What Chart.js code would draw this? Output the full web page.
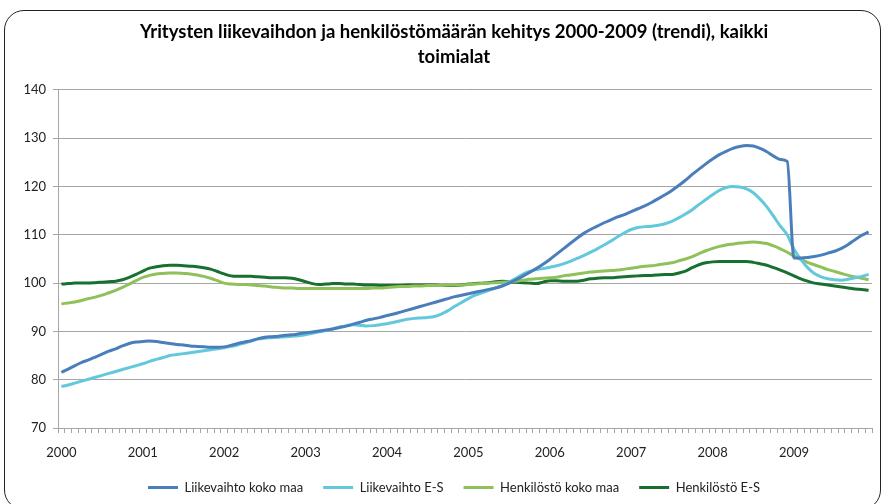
<!DOCTYPE html>
<html>
<head>
<meta charset="utf-8">
<script src="https://cdn.jsdelivr.net/npm/chart.js@4.4.1/dist/chart.umd.min.js"></script>
<style>
  html, body { margin: 0; padding: 0; background: #fff; }
  #wrap { position: relative; width: 887px; height: 504px; }
  #frame {
    position: absolute; left: 4px; top: 10px; width: 877px; height: 500px;
    border: 1px solid #222; border-radius: 20px; box-sizing: border-box;
  }
  #chart { position: absolute; left: 0; top: 0; }
</style>
</head>
<body>
<div id="wrap">
  <div id="frame"></div>
  <canvas id="chart" width="887" height="504"></canvas>
</div>
<script>
// --- Categories: one label per month, year shown on January ---
const years = ['2000','2001','2002','2003','2004','2005','2006','2007','2008','2009'];
const months = [];
years.forEach(y => { for (let m = 1; m <= 12; m++) months.push(y + '-' + (m < 10 ? '0' + m : m)); });

// --- Series (trend index, monthly 2000-01 .. 2009-12) ---
const liikevaihtoKokoMaa = [
  81.5, 82.2, 82.9, 83.6, 84.1, 84.7, 85.3, 85.9, 86.4, 87.0, 87.5, 87.8,
  87.9, 88.0, 87.9, 87.7, 87.5, 87.3, 87.2, 87.0, 86.9, 86.8, 86.7, 86.7,
  86.8, 87.1, 87.5, 87.8, 88.1, 88.5, 88.8, 88.9, 89.0, 89.2, 89.3, 89.5,
  89.7, 89.9, 90.1, 90.3, 90.5, 90.8, 91.1, 91.5, 91.9, 92.3, 92.6, 92.9,
  93.3, 93.6, 94.0, 94.4, 94.8, 95.2, 95.6, 96.0, 96.4, 96.8, 97.2, 97.5,
  97.8, 98.1, 98.4, 98.7, 99.0, 99.4, 100.0, 100.7, 101.4, 102.2, 103.0, 103.9,
  104.9, 106.0, 107.1, 108.2, 109.3, 110.3, 111.1, 111.8, 112.5, 113.1, 113.7, 114.2,
  114.8, 115.4, 116.0, 116.7, 117.5, 118.3, 119.2, 120.2, 121.3, 122.5, 123.6, 124.7,
  125.7, 126.6, 127.3, 127.9, 128.3, 128.5, 128.4, 127.9, 127.2, 126.3, 125.6, 125.2,
  105.2, 105.2, 105.3, 105.5, 105.8, 106.2, 106.6, 107.2, 108.0, 109.0, 109.9, 110.6
];
const liikevaihtoES = [
  78.6, 78.9, 79.3, 79.7, 80.1, 80.5, 80.9, 81.3, 81.7, 82.1, 82.5, 82.9,
  83.3, 83.8, 84.2, 84.6, 85.0, 85.2, 85.4, 85.6, 85.8, 86.0, 86.2, 86.4,
  86.6, 86.9, 87.2, 87.6, 88.0, 88.4, 88.6, 88.7, 88.8, 88.9, 89.0, 89.1,
  89.3, 89.6, 89.9, 90.2, 90.5, 90.9, 91.2, 91.4, 91.3, 91.1, 91.2, 91.4,
  91.6, 91.9, 92.2, 92.5, 92.7, 92.8, 92.9, 93.1, 93.6, 94.3, 95.2, 96.0,
  96.8, 97.5, 98.0, 98.5, 99.0, 99.5, 100.2, 101.0, 101.8, 102.4, 102.8, 103.0,
  103.3, 103.6, 104.0, 104.5, 105.1, 105.7, 106.4, 107.1, 107.9, 108.7, 109.6, 110.4,
  111.1, 111.5, 111.7, 111.8, 112.0, 112.3, 112.8, 113.5, 114.3, 115.2, 116.3, 117.3,
  118.3, 119.2, 119.8, 120.0, 119.9, 119.5, 118.7, 117.4, 115.8, 113.8, 111.8, 110.0,
  107.0, 104.9, 103.2, 102.0, 101.3, 100.9, 100.7, 100.6, 100.8, 101.1, 101.4, 101.8
];
const henkilostoKokoMaa = [
  95.7, 95.9, 96.1, 96.4, 96.8, 97.1, 97.5, 98.0, 98.5, 99.1, 99.8, 100.5,
  101.2, 101.6, 101.9, 102.0, 102.1, 102.1, 102.0, 101.9, 101.7, 101.4, 101.0, 100.5,
  100.0, 99.8, 99.7, 99.7, 99.6, 99.5, 99.4, 99.2, 99.1, 99.0, 99.0, 98.9,
  98.9, 98.9, 98.9, 98.9, 98.9, 98.9, 98.9, 98.9, 98.9, 98.9, 99.0, 99.0,
  99.1, 99.2, 99.3, 99.3, 99.4, 99.4, 99.5, 99.5, 99.5, 99.6, 99.6, 99.6,
  99.7, 99.8, 99.9, 100.0, 100.1, 100.2, 100.3, 100.4, 100.6, 100.8, 100.9, 101.0,
  101.1, 101.2, 101.5, 101.7, 101.9, 102.1, 102.3, 102.4, 102.5, 102.6, 102.7, 102.9,
  103.1, 103.3, 103.5, 103.6, 103.8, 104.0, 104.2, 104.6, 105.0, 105.5, 106.1, 106.7,
  107.2, 107.6, 107.9, 108.1, 108.3, 108.4, 108.5, 108.4, 108.2, 107.7, 107.1, 106.4,
  105.6, 104.9, 104.3, 103.8, 103.3, 102.8, 102.4, 102.0, 101.6, 101.3, 101.0, 100.7
];
const henkilostoES = [
  99.8, 99.9, 100.0, 100.0, 100.0, 100.1, 100.2, 100.3, 100.4, 100.7, 101.2, 101.8,
  102.5, 103.1, 103.4, 103.6, 103.7, 103.7, 103.6, 103.5, 103.4, 103.2, 102.9, 102.4,
  101.9, 101.5, 101.4, 101.4, 101.4, 101.3, 101.2, 101.1, 101.1, 101.1, 101.0, 100.7,
  100.3, 99.9, 99.7, 99.8, 99.9, 99.9, 99.8, 99.8, 99.7, 99.6, 99.6, 99.5,
  99.5, 99.5, 99.5, 99.6, 99.6, 99.6, 99.6, 99.6, 99.5, 99.5, 99.5, 99.6,
  99.8, 99.9, 100.0, 100.1, 100.3, 100.4, 100.3, 100.2, 100.1, 100.0, 99.9, 100.2,
  100.5, 100.5, 100.4, 100.4, 100.4, 100.6, 100.9, 101.0, 101.1, 101.1, 101.2, 101.3,
  101.4, 101.5, 101.6, 101.6, 101.7, 101.8, 101.8, 102.1, 102.5, 103.2, 103.8, 104.2,
  104.4, 104.5, 104.5, 104.5, 104.5, 104.5, 104.3, 104.0, 103.7, 103.2, 102.7, 102.1,
  101.5, 100.9, 100.4, 100.0, 99.8, 99.6, 99.4, 99.2, 99.0, 98.8, 98.7, 98.5
];

const seriesNames  = ['Liikevaihto koko maa', 'Liikevaihto E-S', 'Henkilöstö koko maa', 'Henkilöstö E-S'];
const seriesColors = ['#4a7ebb', '#63c8dc', '#8fc05a', '#17702f'];
const seriesData   = [liikevaihtoKokoMaa, liikevaihtoES, henkilostoKokoMaa, henkilostoES];

const titleLines = ['Yritysten liikevaihdon ja henkilöstömäärän kehitys 2000-2009 (trendi), kaikki', 'toimialat'];

const FONT = 'Lato, "Open Sans", sans-serif';
const gridGrey = '#a6a6a6';

const ctx = document.getElementById('chart').getContext('2d');

const chart = new Chart(ctx, {
  type: 'line',
  data: {
    labels: months,
    datasets: seriesData.map((d, i) => ({
      label: seriesNames[i],
      data: d,
      borderColor: seriesColors[i],
      backgroundColor: seriesColors[i],
      borderWidth: 3,
      pointRadius: 0,
      pointStyle: 'line',
      cubicInterpolationMode: 'monotone',
      fill: false
    }))
  },
  options: {
    responsive: false,
    animation: false,
    layout: { padding: { left: 24, right: 3, top: 0, bottom: 0 } },
    plugins: {
      title: {
        display: true,
        text: titleLines,
        color: '#000',
        font: { family: FONT, size: 18.5, weight: 'bold', lineHeight: 1.35 },
        padding: { top: 20, bottom: 20 }
      },
      legend: {
        position: 'bottom',
        labels: {
          color: '#222',
          font: { family: FONT, size: 13 },
          usePointStyle: true,
          pointStyleWidth: 30,
          boxHeight: 3,
          padding: 20
        }
      },
      tooltip: { enabled: false }
    },
    scales: {
      x: {
        type: 'category',
        offset: true,
        afterFit: (scale) => { scale.height = 33; },
        grid: {
          display: true,
          offset: true,
          drawOnChartArea: false,
          drawTicks: true,
          tickLength: 5,
          color: gridGrey
        },
        border: { display: true, color: gridGrey },
        ticks: {
          autoSkip: false,
          maxRotation: 0,
          minRotation: 0,
          padding: 12,
          color: '#222',
          font: { family: FONT, size: 13 },
          callback: (v, idx) => (idx % 12 === 0 ? years[idx / 12] : '')
        }
      },
      y: {
        min: 70,
        max: 140,
        afterFit: (scale) => { scale.width = 34; },
        grid: { color: gridGrey, tickLength: 5, drawTicks: true },
        border: { display: true, color: gridGrey },
        ticks: {
          stepSize: 10,
          padding: 7,
          color: '#222',
          font: { family: FONT, size: 13 }
        }
      },
      // empty right-hand spacer so the plot ends where the reference does
      yRight: {
        position: 'right',
        display: true,
        afterFit: (scale) => { scale.width = 12; },
        grid: { display: false },
        border: { display: false },
        ticks: { display: false }
      }
    }
  }
});
</script>
</body>
</html>
